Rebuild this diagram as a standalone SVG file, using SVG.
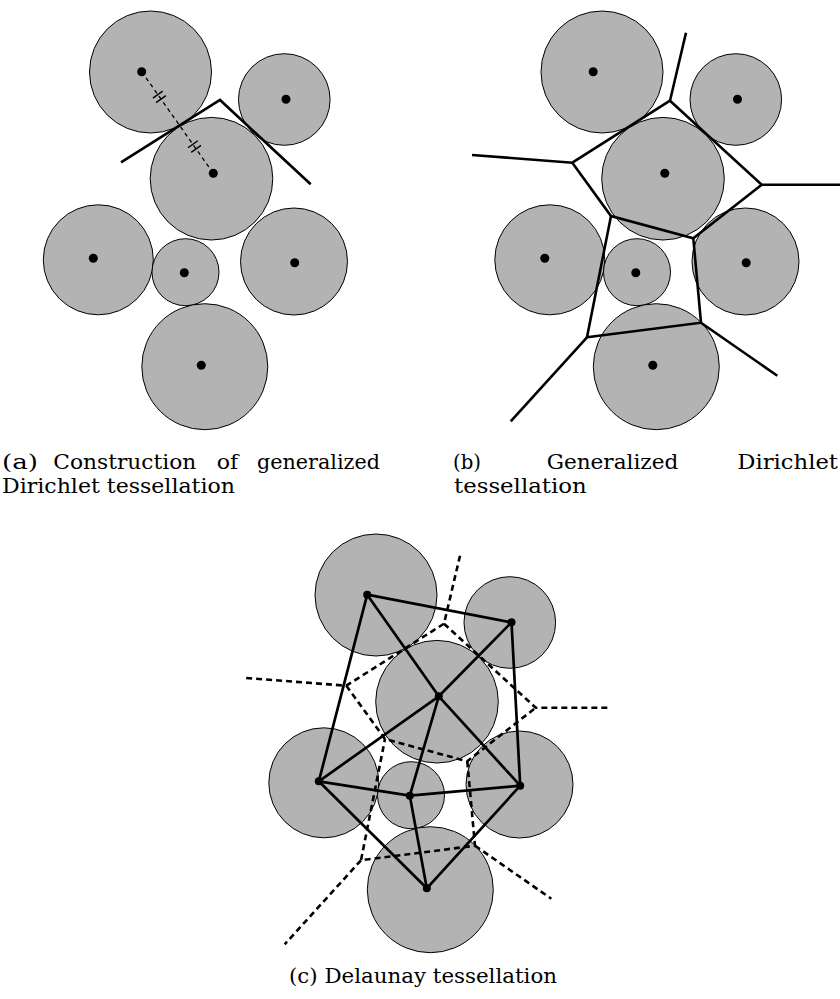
<svg xmlns="http://www.w3.org/2000/svg" width="840" height="999" viewBox="0 0 840 999">
<style>
.disk{fill:#b3b3b3;stroke:#000;stroke-width:1}
.dot{fill:#000}
.vor{fill:none;stroke:#000;stroke-width:2.6;stroke-linejoin:miter;stroke-linecap:butt}
.vord{fill:none;stroke:#000;stroke-width:2.6;stroke-dasharray:6 4}
.del{fill:none;stroke:#000;stroke-width:2.7;stroke-linecap:round}
.thin{fill:none;stroke:#000;stroke-width:1.3;stroke-dasharray:4 3.5}
.tick{stroke:#000;stroke-width:1.4}
.cap{font-family:"DejaVu Serif","Liberation Serif",serif;font-size:20.5px;fill:#000}
</style>
<rect width="840" height="999" fill="#fff"/>

<!-- Panel (a) -->
<g id="panel-a">
  <g id="a-A"><circle class="disk" cx="150.5" cy="72" r="61"/><circle class="dot" cx="141.7" cy="71.7" r="4.5"/></g>
  <g id="a-B"><circle class="disk" cx="284.3" cy="99.5" r="45.8"/><circle class="dot" cx="286" cy="99.3" r="4.5"/></g>
  <g id="a-C"><circle class="disk" cx="211.5" cy="178.7" r="61.3"/><circle class="dot" cx="213.3" cy="173.3" r="4.5"/></g>
  <g id="a-D"><circle class="disk" cx="98.3" cy="259.8" r="55"/><circle class="dot" cx="93.3" cy="258.3" r="4.5"/></g>
  <g id="a-E"><circle class="disk" cx="185.5" cy="272.2" r="33.5"/><circle class="dot" cx="184.3" cy="272.7" r="4.5"/></g>
  <g id="a-F"><circle class="disk" cx="294" cy="261.5" r="53.5"/><circle class="dot" cx="294.7" cy="262.7" r="4.5"/></g>
  <g id="a-G"><circle class="disk" cx="204.8" cy="366.7" r="63"/><circle class="dot" cx="201.3" cy="365.3" r="4.5"/></g>
  <g id="a-connectors">
    <polyline class="vor" points="121,162.3 220,100 310.7,184.3"/>
    <line class="thin" x1="141.7" y1="71.7" x2="213.3" y2="173.3"/>
    <line class="tick" x1="152.9" y1="98.1" x2="162.7" y2="91.1"/>
    <line class="tick" x1="156.1" y1="102.6" x2="165.9" y2="95.6"/>
    <line class="tick" x1="188.0" y1="147.8" x2="197.8" y2="140.8"/>
    <line class="tick" x1="191.2" y1="152.4" x2="201.0" y2="145.4"/>
  </g>
</g>

<!-- Panel (b) -->
<g id="panel-b">
  <g transform="translate(451.5,0)">
    <g id="b-A"><circle class="disk" cx="150.5" cy="72" r="61"/><circle class="dot" cx="141.7" cy="71.7" r="4.5"/></g>
    <g id="b-B"><circle class="disk" cx="284.3" cy="99.5" r="45.8"/><circle class="dot" cx="286" cy="99.3" r="4.5"/></g>
    <g id="b-C"><circle class="disk" cx="211.5" cy="178.7" r="61.3"/><circle class="dot" cx="213.3" cy="173.3" r="4.5"/></g>
    <g id="b-D"><circle class="disk" cx="98.3" cy="259.8" r="55"/><circle class="dot" cx="93.3" cy="258.3" r="4.5"/></g>
    <g id="b-E"><circle class="disk" cx="185.5" cy="272.2" r="33.5"/><circle class="dot" cx="184.3" cy="272.7" r="4.5"/></g>
    <g id="b-F"><circle class="disk" cx="294" cy="261.5" r="53.5"/><circle class="dot" cx="294.7" cy="262.7" r="4.5"/></g>
    <g id="b-G"><circle class="disk" cx="204.8" cy="366.7" r="63"/><circle class="dot" cx="201.3" cy="365.3" r="4.5"/></g>
  </g>
  <g id="b-connectors">
    <polyline class="vor" points="686,32.7 670,100.7 572.3,162.7 472,155"/>
    <polyline class="vor" points="670,100.7 761.7,184.7 840,184.7"/>
    <polyline class="vor" points="572.3,162.7 611,216 693.3,238.3 761.7,184.7"/>
    <polyline class="vor" points="693.3,238.3 701,322.7 587,337.3 611,216"/>
    <line class="vor" x1="587" y1="337.3" x2="510.7" y2="421.3"/>
    <line class="vor" x1="701" y1="322.7" x2="777.3" y2="375.7"/>
  </g>
</g>

<!-- Panel (c) -->
<g id="panel-c">
  <g transform="translate(225.5,523)">
    <g id="c-A"><circle class="disk" cx="150.5" cy="72" r="61"/></g>
    <g id="c-B"><circle class="disk" cx="284.3" cy="99.5" r="45.8"/></g>
    <g id="c-C"><circle class="disk" cx="211.5" cy="178.7" r="61.3"/></g>
    <g id="c-D"><circle class="disk" cx="98.3" cy="259.8" r="55"/></g>
    <g id="c-E"><circle class="disk" cx="185.5" cy="272.2" r="33.5"/></g>
    <g id="c-F"><circle class="disk" cx="294" cy="261.5" r="53.5"/></g>
    <g id="c-G"><circle class="disk" cx="204.8" cy="366.7" r="63"/></g>
  </g>
  <g id="c-voronoi">
    <polyline class="vord" points="460,555.7 444,623.7 346.3,685.7 246,678"/>
    <polyline class="vord" points="444,623.7 535.7,707.7 610,707.7"/>
    <polyline class="vord" points="346.3,685.7 385,739 467.3,761.3 535.7,707.7"/>
    <polyline class="vord" points="467.3,761.3 475,845.7 361,860.3 385,739"/>
    <line class="vord" x1="361" y1="860.3" x2="284.7" y2="944.3"/>
    <line class="vord" x1="475" y1="845.7" x2="551.3" y2="898.7"/>
  </g>
  <g id="c-delaunay">
    <line class="del" x1="367.2" y1="594.7" x2="511.5" y2="622.3"/>
    <line class="del" x1="367.2" y1="594.7" x2="438.8" y2="696.3"/>
    <line class="del" x1="367.2" y1="594.7" x2="318.8" y2="781.3"/>
    <line class="del" x1="511.5" y1="622.3" x2="438.8" y2="696.3"/>
    <line class="del" x1="511.5" y1="622.3" x2="520.2" y2="785.7"/>
    <line class="del" x1="438.8" y1="696.3" x2="318.8" y2="781.3"/>
    <line class="del" x1="438.8" y1="696.3" x2="409.8" y2="795.7"/>
    <line class="del" x1="438.8" y1="696.3" x2="520.2" y2="785.7"/>
    <line class="del" x1="318.8" y1="781.3" x2="409.8" y2="795.7"/>
    <line class="del" x1="318.8" y1="781.3" x2="426.8" y2="888.3"/>
    <line class="del" x1="409.8" y1="795.7" x2="520.2" y2="785.7"/>
    <line class="del" x1="409.8" y1="795.7" x2="426.8" y2="888.3"/>
    <line class="del" x1="520.2" y1="785.7" x2="426.8" y2="888.3"/>
  </g>
  <g id="c-dots">
    <circle class="dot" cx="367.2" cy="594.7" r="4"/>
    <circle class="dot" cx="511.5" cy="622.3" r="4"/>
    <circle class="dot" cx="438.8" cy="696.3" r="4"/>
    <circle class="dot" cx="318.8" cy="781.3" r="4"/>
    <circle class="dot" cx="409.8" cy="795.7" r="4"/>
    <circle class="dot" cx="520.2" cy="785.7" r="4"/>
    <circle class="dot" cx="426.8" cy="888.3" r="4"/>
  </g>
</g>

<!-- Captions -->
<g id="captions" class="cap">
  <text x="2" y="469" textLength="36" lengthAdjust="spacingAndGlyphs">(a)</text>
  <text x="53.3" y="469" textLength="143" lengthAdjust="spacingAndGlyphs">Construction</text>
  <text x="216.7" y="469" textLength="21.5" lengthAdjust="spacingAndGlyphs">of</text>
  <text x="257" y="469" textLength="123" lengthAdjust="spacingAndGlyphs">generalized</text>
  <text x="2" y="493" textLength="233" lengthAdjust="spacingAndGlyphs">Dirichlet tessellation</text>
  <text x="453" y="469" textLength="28" lengthAdjust="spacingAndGlyphs">(b)</text>
  <text x="546.7" y="469" textLength="131.6" lengthAdjust="spacingAndGlyphs">Generalized</text>
  <text x="737.3" y="469" textLength="100.7" lengthAdjust="spacingAndGlyphs">Dirichlet</text>
  <text x="454" y="493" textLength="132.7" lengthAdjust="spacingAndGlyphs">tessellation</text>
  <text x="289" y="983" textLength="268" lengthAdjust="spacingAndGlyphs">(c) Delaunay tessellation</text>
</g>
</svg>
